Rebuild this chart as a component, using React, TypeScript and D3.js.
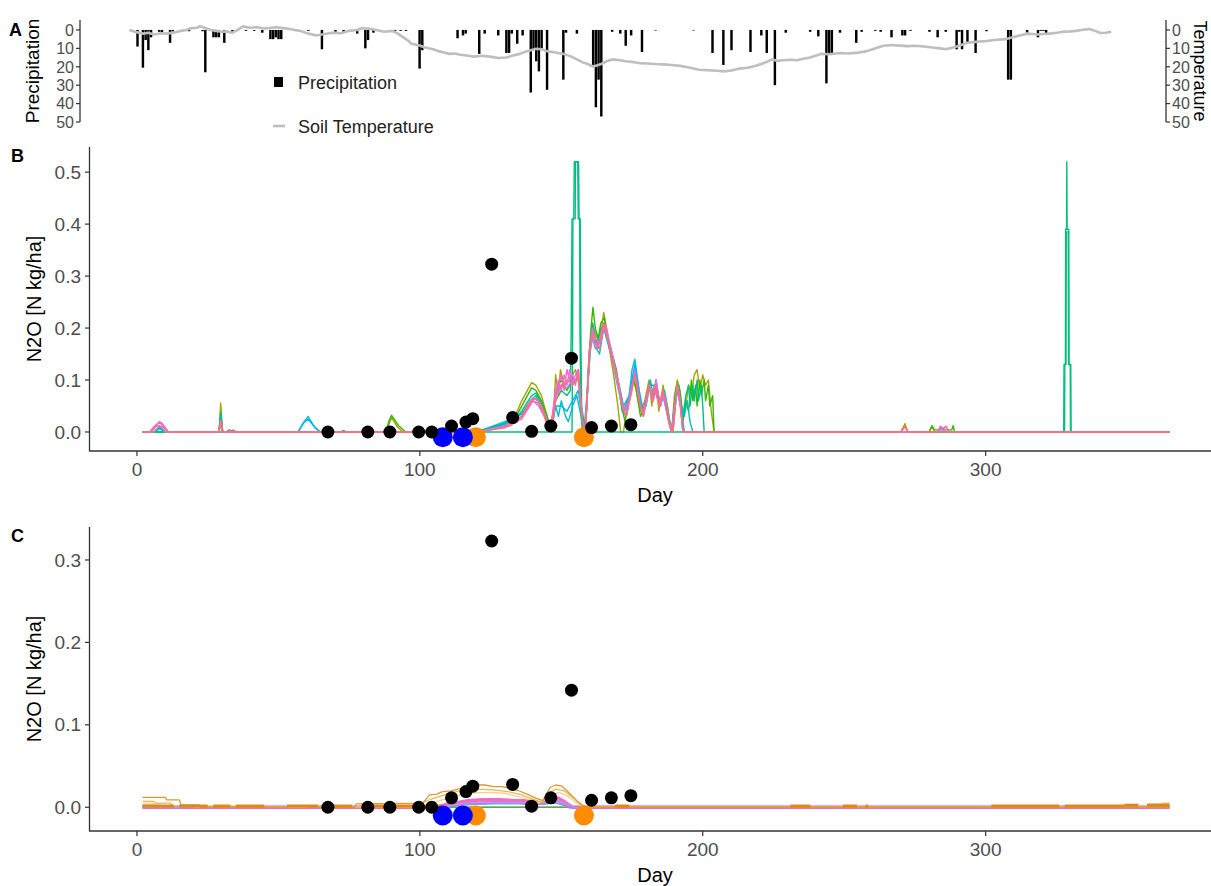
import React from 'react';
import * as d3 from 'd3';

// ---------- Panel A data ----------
const precipitation: [number, number][] = [
  [4, 9], [6, 20.5], [7, 5.5], [8, 11], [9, 4], [12, 1], [13, 1.5], [16, 7], [17, 2], [23, 0.7], [28, 0.7], [29, 23],
  [32, 4], [33, 4], [34, 4], [36, 7], [39, 1], [44, 0.5], [47, 0.5], [50, 1.5], [53, 5], [54, 5], [55, 4], [56, 5], [57, 5],
  [67, 0.5], [72, 10.5], [77, 1], [80, 1.2], [85, 2], [88, 10], [89, 5.5], [91, 1.5], [99, 0.5], [101, 0.5], [103, 0.5],
  [108, 21], [109, 11], [122, 4.5], [124, 3], [125, 2], [130, 13], [132, 2], [137, 3], [140, 12.5], [141, 12.5], [142, 2],
  [144, 7.5], [146, 3], [149, 34], [150, 10.5], [151, 17], [152, 22.5], [153, 10], [155, 32.5], [161, 27], [162, 1.5],
  [166, 2], [172, 19], [173, 42], [174, 27], [175, 47], [179, 1], [182, 2], [184, 8.6], [186, 3], [190, 12], [195, 0.3],
  [209, 0.3], [216, 12.5], [220, 19], [223, 11], [230, 12], [234, 3], [236, 12.5], [239, 30], [243, 1.5], [252, 1],
  [255, 3.5], [258, 29], [259, 12.5], [260, 12.5], [263, 1.5], [269, 7], [271, 1], [276, 0.5], [278, 1], [282, 4],
  [286, 3], [287, 3], [289, 0.5], [296, 1], [299, 4], [302, 1], [306, 10.5], [307, 1], [308, 10.5], [310, 6.5],
  [313, 12.5], [317, 0.7], [325, 27], [326, 27], [332, 1.5], [336, 4], [337, 0.5], [338, 0.5], [339, 2],
];

const soilTemperature: [number, number][] = [
  [1, 0], [3, 1], [6, 2], [8, 1.5], [10, 2.5], [13, 1.8], [15, 2], [18, 1.2], [20, 0.5], [22, 0], [24, -1], [26, -1.2],
  [27, -2], [29, -1], [31, 0], [33, 0.5], [35, 1], [37, 0.8], [39, 1.5], [41, 0], [43, -2], [45, -1.2], [48, -1.5],
  [51, -0.8], [55, -1.5], [58, -1], [60, -0.5], [62, 0], [64, 0.5], [67, 2], [70, 3], [73, 2.2], [76, 1.5], [79, 1.8],
  [82, 0.5], [85, 0], [87, -1], [90, -0.5], [92, 0], [95, 1], [98, 0.5], [100, 2], [102, 4], [104, 6], [105, 7.5],
  [108, 8.5], [110, 9.5], [113, 10.5], [115, 11.5], [117, 12.2], [119, 13], [121, 12.8], [123, 13.5], [126, 14],
  [128, 14.5], [131, 14], [134, 14.5], [137, 15.2], [140, 15], [142, 14], [145, 13], [147, 11.8], [149, 11], [151, 10.2],
  [153, 10.5], [155, 11.5], [157, 12], [159, 12.5], [161, 13], [164, 14.5], [166, 16], [168, 17.5], [170, 18.5],
  [172, 20], [173, 19.5], [175, 18.5], [177, 17], [179, 16], [182, 16.5], [184, 17], [187, 17.5], [189, 18], [192, 18.2],
  [195, 18.5], [198, 18.7], [201, 19], [204, 19.5], [206, 20], [209, 21], [211, 21.6], [214, 21.8], [216, 22],
  [218, 22.2], [220, 22.5], [223, 22], [226, 21], [229, 20.5], [232, 19.5], [235, 18], [238, 16], [240, 16.8],
  [242, 16.5], [245, 16.2], [247, 16.5], [250, 15.5], [252, 15], [254, 14], [256, 13], [259, 13.2], [263, 12.5],
  [266, 12.8], [270, 12.3], [273, 11.5], [275, 10.5], [277, 9.5], [279, 8.6], [282, 8.2], [285, 8.5], [288, 8.8],
  [291, 8.6], [294, 9], [297, 9.5], [300, 10], [302, 10.5], [304, 9.8], [306, 9], [308, 8], [310, 7], [313, 6.5],
  [317, 6], [320, 5.5], [324, 5], [326, 4.2], [328, 3.5], [330, 2.8], [332, 2], [334, 2.2], [336, 2.5], [338, 2.2],
  [340, 2], [343, 1.5], [345, 1], [348, 0.8], [350, 0.5], [352, 0], [355, -0.5], [357, 0.5], [359, 1.7], [361, 1.5],
  [363, 1],
];

const precipTicks = [0, 10, 20, 30, 40, 50];

// ---------- Panel B data (simulated N2O, several runs) ----------
const oliveB: [number, number][] = [
  [2, 0], [29, 0], [29.6, 0.056], [30.3, 0], [33, 0], [34, 0.004], [35, 0], [88, 0], [90, 0.028], [92, 0.01], [94, 0],
  [118, 0], [124, 0.006], [130, 0.015], [134, 0.035], [136, 0.06], [138, 0.08], [139.5, 0.095], [141, 0.09], [143, 0.07],
  [145, 0.03], [146, 0], [147, 0.01], [148, 0.11], [149, 0.07], [149.7, 0.12], [151, 0.09], [153, 0.1], [155, 0.12],
  [156.5, 0.09], [157.5, 0.02], [158.5, 0], [160, 0.16], [161, 0.21], [162, 0.19], [163.5, 0.17], [165, 0.23], [166, 0.2],
  [167, 0.16], [168.5, 0.11], [170, 0.05], [171, 0], [172, 0], [173, 0.04], [174, 0.07], [175.5, 0.1], [176.5, 0.08],
  [178, 0.04], [179.5, 0.06], [181, 0.1], [182, 0.05], [183.5, 0.1], [184.5, 0.04], [186, 0.09], [187, 0.05], [188, 0.02],
  [189, 0], [190, 0.07], [191, 0.1], [192, 0.08], [193, 0.03], [194, 0.05], [195, 0.09], [196, 0.07], [197, 0.11],
  [198, 0.12], [199, 0.08], [200, 0.11], [201, 0.09], [202, 0.1], [203, 0.04], [204, 0], [270, 0], [271.5, 0.016],
  [272.5, 0], [280, 0], [281, 0.01], [282, 0], [365, 0],
];
const greenB: [number, number][] = [
  [2, 0], [29, 0], [29.6, 0.03], [30.3, 0], [88, 0], [89, 0.02], [90, 0.032], [92.5, 0.012], [95, 0], [120, 0],
  [128, 0.01], [134, 0.03], [137, 0.06], [139.5, 0.085], [141, 0.08], [143, 0.06], [145, 0.03], [146.5, 0], [148, 0.08],
  [150, 0.1], [152, 0.08], [154, 0.1], [156, 0.1], [157.5, 0.03], [158.5, 0], [159.5, 0.12], [160.5, 0.2], [161.2, 0.24],
  [162, 0.2], [163, 0.18], [164, 0.21], [165.2, 0.22], [166, 0.19], [168, 0.15], [169.5, 0.12], [171, 0.06],
  [172.5, 0.02], [174, 0.06], [175.5, 0.11], [176.5, 0.08], [178, 0.03], [179.5, 0.05], [181, 0.09], [182, 0.07],
  [183, 0.09], [185, 0.05], [186, 0.08], [187.5, 0.04], [189, 0], [190, 0.05], [191, 0.09], [192, 0.07], [193, 0.02],
  [194, 0.06], [195, 0.04], [196, 0.1], [196.5, 0.06], [197.5, 0.09], [198, 0.05], [199, 0.1], [199.5, 0.07],
  [200.5, 0.1], [201, 0.06], [202, 0.09], [202.5, 0.05], [203.5, 0.07], [204, 0], [280, 0], [281, 0.012], [282, 0.004],
  [288, 0.004], [288.5, 0.012], [289, 0], [365, 0],
];
const tealB: [number, number][] = [
  [2, 0], [6, 0], [8, 0.01], [10, 0], [29, 0], [29.6, 0.038], [30.3, 0], [120, 0], [127, 0.012], [133, 0.022],
  [136, 0.04], [139.5, 0.07], [141, 0.075], [143, 0.055], [145, 0.02], [146.5, 0], [148, 0.06], [150, 0.08], [152, 0.07],
  [153.2, 0.08], [153.5, 0.19], [153.8, 0.41], [154.4, 0.41], [154.6, 0.52], [156.1, 0.52], [156.3, 0.41], [156.7, 0.41],
  [156.9, 0.19], [157.2, 0.05], [158.5, 0], [160, 0.15], [161, 0.21], [162, 0.18], [163, 0.17], [164, 0.2], [165, 0.2],
  [166, 0.18], [168, 0.14], [170, 0.1], [171.5, 0.04], [173, 0.03], [175, 0.09], [176, 0.12], [177.5, 0.06], [179, 0.04],
  [181, 0.09], [182, 0.07], [183, 0.08], [185, 0.05], [186, 0.07], [187.5, 0.05], [189, 0], [190.5, 0.08], [191.5, 0.09],
  [193, 0.03], [194, 0.07], [195, 0.09], [195.5, 0.05], [196.5, 0.09], [197, 0.06], [198, 0.1], [198.5, 0.06],
  [199.5, 0.09], [200, 0.05], [200.5, 0], [327.6, 0], [327.7, 0.13], [328.2, 0.13], [328.3, 0.39], [328.6, 0.39],
  [328.7, 0.52], [328.8, 0.39], [329.4, 0.39], [329.5, 0.13], [330.1, 0.13], [330.2, 0], [365, 0],
];
const teal2B: [number, number][] = [
  [2, 0], [153.8, 0], [154.0, 0.19], [154.1, 0.41], [154.9, 0.41], [155.0, 0.52], [155.8, 0.52], [156.0, 0.41],
  [156.5, 0.41], [156.6, 0.19], [157, 0.03], [157.5, 0], [327.9, 0], [328.0, 0.13], [328.4, 0.13], [328.5, 0.385],
  [329.2, 0.385], [329.3, 0.13], [329.9, 0.13], [330, 0], [365, 0],
];
const cyanB: [number, number][] = [
  [2, 0], [6, 0], [8, 0.006], [10, 0], [29, 0], [29.6, 0.03], [30.3, 0], [31.5, 0], [32.5, 0.004], [34, 0.002], [36, 0],
  [57, 0], [58.5, 0.015], [60.5, 0.03], [62.5, 0.012], [64.5, 0], [72, 0], [73, 0.003], [74, 0], [120, 0], [125, 0.01],
  [130, 0.02], [133, 0.026], [136, 0.035], [139, 0.06], [141, 0.07], [143, 0.05], [145, 0.015], [146.5, 0], [148, 0.05],
  [149, 0.03], [150, 0.06], [151.5, 0.03], [152.5, 0.02], [154, 0.05], [155.5, 0.07], [157, 0.03], [158, 0],
  [159.5, 0.1], [160.5, 0.17], [161.5, 0.19], [162.5, 0.16], [163.5, 0.15], [165, 0.2], [166, 0.19], [167.5, 0.15],
  [169, 0.12], [170.5, 0.09], [172, 0.05], [174, 0.07], [175, 0.12], [176, 0.14], [177, 0.1], [178.5, 0.04], [180, 0.05],
  [181.5, 0.1], [182.5, 0.07], [183.5, 0.1], [185, 0.05], [186.5, 0.08], [187.5, 0.05], [188.5, 0.01], [189.5, 0],
  [191, 0.09], [192.5, 0.05], [193.5, 0.03], [194.5, 0.06], [195.5, 0.02], [196.5, 0], [365, 0],
];
const blueB: [number, number][] = [
  [2, 0], [6, 0], [8, 0.008], [10, 0], [29, 0], [29.6, 0.025], [30.3, 0], [57, 0], [59, 0.018], [60.5, 0.025], [63, 0.008],
  [65, 0], [120, 0], [126, 0.008], [132, 0.018], [137, 0.04], [140, 0.065], [142, 0.06], [144, 0.035], [146, 0], [148, 0.05],
  [150, 0.05], [152, 0.04], [154, 0.06], [156, 0.08], [157.5, 0.02], [158.5, 0], [160, 0.16], [161, 0.19], [162, 0.17],
  [164, 0.18], [165, 0.21], [166, 0.19], [168, 0.15], [170, 0.1], [172, 0.04], [174, 0.07], [176, 0.13], [177.5, 0.08],
  [179, 0.04], [181, 0.09], [183, 0.09], [185, 0.05], [186, 0.07], [188, 0.02], [189, 0], [191, 0.08], [192.5, 0.04],
  [193.5, 0], [365, 0],
];
const purpleB: [number, number][] = [
  [2, 0], [6, 0], [8, 0.012], [10, 0], [29, 0], [29.6, 0.02], [30.3, 0], [120, 0], [130, 0.012], [136, 0.03], [140, 0.06],
  [142, 0.055], [144, 0.03], [146, 0], [148, 0.07], [150, 0.09], [152, 0.085], [154, 0.1], [156, 0.1], [157.5, 0.02],
  [158.5, 0], [160, 0.15], [161, 0.18], [162, 0.16], [164, 0.18], [165, 0.2], [167, 0.17], [169, 0.11], [171, 0.06],
  [173, 0.04], [175, 0.09], [176, 0.11], [178, 0.05], [179, 0.03], [181, 0.08], [183, 0.08], [185, 0.05], [186, 0.07],
  [188, 0.02], [189, 0], [191, 0.09], [192, 0.06], [193, 0], [283, 0], [284, 0.008], [285, 0.004], [286, 0], [365, 0],
];
const magentaB: [number, number][] = [
  [2, 0], [4.5, 0], [6, 0.01], [8, 0.018], [10, 0.008], [11, 0], [29, 0], [29.6, 0.022], [30.3, 0], [120, 0], [130, 0.01],
  [136, 0.03], [140, 0.065], [142, 0.06], [144, 0.035], [146, 0], [148, 0.08], [149, 0.1], [150, 0.08], [151, 0.11],
  [152, 0.09], [153, 0.12], [154, 0.09], [155, 0.11], [156, 0.12], [157.5, 0.02], [158.5, 0], [160, 0.16], [161, 0.2],
  [162, 0.18], [163.5, 0.17], [165, 0.21], [166, 0.2], [168, 0.15], [170, 0.1], [172, 0.04], [174, 0.06], [175.5, 0.1],
  [176, 0.12], [178, 0.05], [179, 0.03], [181, 0.09], [182.5, 0.06], [183.5, 0.1], [185, 0.05], [186, 0.08], [188, 0.02],
  [189, 0], [191, 0.09], [192, 0.05], [193, 0], [283, 0], [284, 0.01], [285, 0.007], [286, 0.01], [287, 0], [365, 0],
];
const pinkB: [number, number][] = [
  [2, 0], [4.5, 0], [6.5, 0.012], [8, 0.02], [9, 0.016], [11, 0], [29, 0], [29.6, 0.018], [30.3, 0], [32, 0], [33, 0.003],
  [35, 0], [120, 0], [130, 0.008], [136, 0.025], [140, 0.06], [142, 0.05], [144, 0.03], [146, 0], [148, 0.07], [149, 0.09],
  [150, 0.11], [151, 0.08], [152, 0.12], [153, 0.1], [154, 0.11], [155, 0.09], [156, 0.12], [157.5, 0.02], [158.5, 0],
  [160, 0.15], [161, 0.19], [162, 0.17], [163.5, 0.16], [165, 0.2], [166, 0.19], [168, 0.14], [170, 0.1], [172, 0.04],
  [174, 0.06], [175.5, 0.1], [176.5, 0.1], [178, 0.05], [179, 0.04], [181, 0.09], [182.5, 0.06], [183.5, 0.09],
  [185, 0.05], [186, 0.08], [188, 0.02], [189, 0], [191, 0.09], [192, 0.06], [193, 0], [270, 0], [271.5, 0.01],
  [272.5, 0], [283, 0], [284, 0.011], [285, 0.006], [286, 0.011], [287, 0], [365, 0],
];
const salmonB: [number, number][] = [
  [2, 0], [5, 0], [7, 0.012], [9, 0.01], [11, 0], [29, 0], [29.6, 0.02], [30.3, 0], [120, 0], [126, 0.005], [132, 0.012],
  [136, 0.03], [139, 0.06], [141, 0.065], [143, 0.05], [145, 0.02], [146.5, 0], [148, 0.06], [150, 0.09], [152, 0.1],
  [154, 0.09], [156, 0.11], [157.5, 0.02], [158.5, 0], [160, 0.15], [161, 0.19], [162, 0.17], [163, 0.16], [164, 0.19],
  [165, 0.21], [166, 0.19], [168, 0.14], [170, 0.1], [171.5, 0.05], [173, 0.03], [175, 0.08], [176, 0.11], [177.5, 0.06],
  [179, 0.03], [181, 0.09], [182, 0.06], [183, 0.09], [184.5, 0.05], [186, 0.08], [187, 0.06], [188.5, 0.01], [189.5, 0],
  [191, 0.09], [192, 0.06], [193, 0], [270, 0], [271.5, 0.012], [272.5, 0], [365, 0],
];

// ---------- Panel C data ----------
const salmonC: [number, number][] = [[2, 0], [365, 0]];
const greenC: [number, number][] = [[2, 0.002], [6, 0.002], [6.5, 0], [365, 0]];
const goldC1: [number, number][] = [
  [2, 0.012], [10, 0.012], [10.5, 0.009], [15, 0.009], [15.5, 0.003], [22, 0.003], [22.5, 0], [53, 0], [54, 0.002],
  [60, 0.002], [60.5, 0], [77, 0], [77.5, 0.004], [101, 0.005], [103.5, 0.015], [106, 0.016], [108, 0.019], [111, 0.02],
  [114.5, 0.023], [118, 0.027], [123, 0.027], [126, 0.025], [129, 0.025], [132, 0.023], [135, 0.02], [138.5, 0.015],
  [141, 0.011], [143.5, 0.008], [146, 0.024], [148, 0.027], [150, 0.026], [152, 0.02], [153.5, 0.015], [155.5, 0.008],
  [157, 0.004], [158.5, 0], [365, 0],
];
const goldC2: [number, number][] = [
  [2, 0.007], [6, 0.007], [6.5, 0.005], [12, 0.005], [12.5, 0.002], [20, 0.002], [20.5, 0], [98, 0], [100, 0.004],
  [104, 0.01], [108, 0.014], [112, 0.018], [116, 0.022], [120, 0.022], [126, 0.021], [131, 0.019], [136, 0.015],
  [140, 0.01], [143, 0.006], [145, 0.016], [148, 0.022], [151, 0.02], [154, 0.012], [157, 0.003], [158, 0], [362, 0],
  [362.5, 0.005], [365, 0.005],
];
const goldC3: [number, number][] = [
  [2, 0.004], [8, 0.004], [8.5, 0.002], [40, 0.002], [40.5, 0], [102, 0], [106, 0.007], [110, 0.011], [116, 0.017],
  [124, 0.018], [130, 0.017], [136, 0.012], [142, 0.005], [146, 0.012], [149, 0.018], [152, 0.014], [156, 0.004],
  [158, 0], [349, 0], [349.5, 0.003], [354, 0.003], [354.5, 0], [357, 0], [357.5, 0.004], [365, 0.004],
];
const pinkC: [number, number][] = [
  [2, 0], [106, 0], [110, 0.004], [114, 0.006], [117, 0.008], [122, 0.009], [128, 0.009], [134, 0.008], [138, 0.008],
  [141, 0.005], [144, 0.006], [147, 0.01], [149, 0.011], [151, 0.007], [153, 0.002], [154, 0], [365, 0],
];
const pinkC2: [number, number][] = [
  [2, 0], [108, 0], [112, 0.003], [118, 0.005], [126, 0.006], [134, 0.006], [140, 0.004], [145, 0.005], [148, 0.008],
  [151, 0.004], [153, 0], [365, 0],
];
const lavenderC: [number, number][] = [
  [2, 0], [108, 0], [114, 0.004], [120, 0.006], [130, 0.006], [140, 0.005], [146, 0.006], [149, 0.008], [153, 0.002],
  [155, 0], [365, 0],
];
const blueC: [number, number][] = [
  [2, 0], [110, 0], [116, 0.003], [126, 0.004], [138, 0.004], [148, 0.005], [152, 0.001], [153, 0], [365, 0],
];
// orange run: step values (value holds until next day listed)
const orangeC: [number, number][] = [
  [2, 0.0015], [13, 0], [15, 0.0015], [25, 0], [27, 0.0015], [33, 0], [35, 0.0015], [45, 0], [53, 0.0015], [64, 0],
  [69, 0.0015], [76, 0], [80, 0.0015], [100, 0], [103, 0.0015], [108, 0], [169, 0.0015], [174, 0], [231, 0.0015],
  [238, 0], [249.5, 0.0015], [254.5, 0], [257.5, 0.0015], [258.5, 0], [302, 0.0015], [326, 0], [328, 0.0015],
  [349, 0.0025], [354, 0], [357, 0.0025], [365, 0.0025],
];

// ---------- Observations ----------
const obsDay = [67.5, 81.6, 89.4, 99.6, 104.2, 111.2, 116.3, 118.7, 125.4, 132.8, 139.5, 146.3, 153.6, 160.7, 167.7, 174.6];
const obsN2O = [0, 0, 0, 0, 0, 0.0115, 0.019, 0.0256, 0.323, 0.0277, 0.0013, 0.0115, 0.142, 0.0085, 0.0115, 0.014];
const blueEventDay = [108.1, 115.2];
const orangeEventDay = [119.8, 158];
const eventLevel = -0.01;

const dayTicks = [0, 100, 200, 300];
const ticksB = [0, 0.1, 0.2, 0.3, 0.4, 0.5];
const ticksC = [0, 0.1, 0.2, 0.3];

const FONT = '"Liberation Sans", Arial, Helvetica, sans-serif';
const AXIS_COL = '#333333';
const TICK_TXT = '#4D4D4D';

const xA = d3.scaleLinear().domain([-17.2, 383.2]).range([80, 1166]);
const yA = d3.scaleLinear().domain([-5.4, 50]).range([20, 122]);
const xN = d3.scaleLinear().domain([-17.2, 383.2]).range([88.3, 1221]);
const yB = d3.scaleLinear().domain([-0.0366, 0.5484]).range([451, 147]);
const yC = d3.scaleLinear().domain([-0.0288, 0.34]).range([831, 527]);

const seriesB = [
  { d: oliveB, c: '#A3A500' },
  { d: greenB, c: '#39B600' },
  { d: tealB, c: '#00BF7D' },
  { d: teal2B, c: '#00BF7D' },
  { d: cyanB, c: '#00BFC4' },
  { d: blueB, c: '#00B0F6' },
  { d: purpleB, c: '#9590FF' },
  { d: magentaB, c: '#E76BF3' },
  { d: pinkB, c: '#FF62BC' },
  { d: salmonB, c: '#F8766D' },
];

const seriesC = [
  { d: salmonC, c: '#F08A84', w: 1.3 },
  { d: greenC, c: '#4CAF50', w: 1.5 },
  { d: pinkC2, c: '#F06FC8', w: 3 },
  { d: pinkC, c: '#EE6CC4', w: 3.5 },
  { d: blueC, c: '#6F9CF2', w: 1.2 },
  { d: lavenderC, c: '#A99CF5', w: 1.2 },
  { d: goldC3, c: '#F2D28C', w: 1.3 },
  { d: goldC2, c: '#E8B75A', w: 1.3 },
  { d: goldC1, c: '#D99A36', w: 1.3 },
];

function Points({ y }: { y: any }) {
  return (
    <g>
      {orangeEventDay.map((d, i) => (
        <circle key={'o' + i} cx={xN(d)} cy={y(eventLevel)} r={10} fill="#FF8C00" />
      ))}
      {blueEventDay.map((d, i) => (
        <circle key={'b' + i} cx={xN(d)} cy={y(eventLevel)} r={10} fill="#0000FF" />
      ))}
      {obsDay.map((d, i) => (
        <circle key={'k' + i} cx={xN(d)} cy={y(obsN2O[i])} r={6.5} fill="#000" />
      ))}
    </g>
  );
}

function Axes({ y, ticks, top, bottom, label, title }: any) {
  const midY = (top + bottom) / 2;
  return (
    <g>
      <line x1={89.5} x2={89.5} y1={top} y2={bottom} stroke={AXIS_COL} strokeWidth={1.3} />
      <line x1={89} x2={1211} y1={bottom} y2={bottom} stroke={AXIS_COL} strokeWidth={1.3} />
      {ticks.map((t: number) => (
        <g key={'y' + t}>
          <line x1={85} x2={89.5} y1={y(t)} y2={y(t)} stroke={AXIS_COL} strokeWidth={1.2} />
          <text x={81} y={y(t)} dy="0.35em" textAnchor="end" fontSize={19} fill={TICK_TXT}>
            {d3.format('.1f')(t)}
          </text>
        </g>
      ))}
      {dayTicks.map((t) => (
        <g key={'x' + t}>
          <line x1={xN(t)} x2={xN(t)} y1={bottom} y2={bottom + 5} stroke={AXIS_COL} strokeWidth={1.2} />
          <text x={xN(t)} y={bottom + 25} textAnchor="middle" fontSize={19} fill={TICK_TXT}>
            {t}
          </text>
        </g>
      ))}
      <text x={655} y={bottom + 51} textAnchor="middle" fontSize={20} fill="#000">
        Day
      </text>
      <text
        transform={`translate(41,${midY}) rotate(-90)`}
        textAnchor="middle"
        fontSize={20}
        fill="#000"
      >
        {title}
      </text>
      <text x={11} y={top + 15} fontSize={18} fontWeight="bold" fill="#000">
        {label}
      </text>
    </g>
  );
}

export default function App() {
  const lineB = d3.line<[number, number]>().x((d) => xN(d[0])).y((d) => yB(d[1]));
  const lineC = d3.line<[number, number]>().x((d) => xN(d[0])).y((d) => yC(d[1]));
  const lineT = d3.line<[number, number]>().x((d) => xA(d[0])).y((d) => yA(d[1]));
  const barW = xA(0.9) - xA(0);

  return (
    <svg
      width={1211}
      height={886}
      style={{ position: 'absolute', left: 0, top: 0, background: '#fff' }}
      fontFamily={FONT}
    >
      <rect x={0} y={0} width={1211} height={886} fill="#fff" />

      {/* ---------- Panel A ---------- */}
      <g>
        {precipitation.map(([d, v], i) => (
          <rect key={i} x={xA(d) - barW / 2} y={yA(0)} width={barW} height={yA(v) - yA(0)} fill="#000" />
        ))}
        <path d={lineT(soilTemperature) || ''} fill="none" stroke="#BEBEBE" strokeWidth={2.6} strokeLinejoin="round" />
        <line x1={80} x2={80} y1={20} y2={122} stroke={AXIS_COL} strokeWidth={1.3} />
        <line x1={1166} x2={1166} y1={20} y2={122} stroke={AXIS_COL} strokeWidth={1.3} />
        {precipTicks.map((t) => (
          <g key={t}>
            <line x1={76} x2={80} y1={yA(t)} y2={yA(t)} stroke={AXIS_COL} strokeWidth={1.2} />
            <text x={74} y={yA(t)} dy="0.36em" textAnchor="end" fontSize={16} fill={TICK_TXT}>
              {t}
            </text>
            <line x1={1166} x2={1170} y1={yA(t)} y2={yA(t)} stroke={AXIS_COL} strokeWidth={1.2} />
            <text x={1172} y={yA(t)} dy="0.36em" textAnchor="start" fontSize={16} fill={TICK_TXT}>
              {t}
            </text>
          </g>
        ))}
        <text transform="translate(39,71) rotate(-90)" textAnchor="middle" fontSize={19} fill="#000">
          Precipitation
        </text>
        <text transform="translate(1194,71) rotate(90)" textAnchor="middle" fontSize={18} fill="#000">
          Temperature
        </text>
        <text x={9} y={36} fontSize={18} fontWeight="bold" fill="#000">
          A
        </text>
        {/* legend */}
        <rect x={274} y={77} width={9} height={10} fill="#000" />
        <text x={298} y={89} fontSize={18} fill="#222">
          Precipitation
        </text>
        <line x1={273} x2={285} y1={126} y2={126} stroke="#BEBEBE" strokeWidth={2.6} />
        <text x={298} y={133} fontSize={18} fill="#222">
          Soil Temperature
        </text>
      </g>

      {/* ---------- Panel B ---------- */}
      <g>
        {seriesB.map((s, i) => (
          <path key={i} d={lineB(s.d) || ''} fill="none" stroke={s.c} strokeWidth={1.4} strokeLinejoin="round" />
        ))}
        <Points y={yB} />
        <Axes y={yB} ticks={ticksB} top={147} bottom={451} label="B" title="N2O [N kg/ha]" />
      </g>

      {/* ---------- Panel C ---------- */}
      <g>
        {seriesC.map((s, i) => (
          <path key={i} d={lineC(s.d) || ''} fill="none" stroke={s.c} strokeWidth={s.w} strokeLinejoin="round" />
        ))}
        {orangeC.slice(0, -1).map(([d, v], i) =>
          v > 0 ? (
            <line
              key={'oc' + i}
              x1={xN(d)}
              x2={xN(orangeC[i + 1][0])}
              y1={yC(v)}
              y2={yC(v)}
              stroke="#E0861A"
              strokeWidth={3}
            />
          ) : null
        )}
        <Points y={yC} />
        <Axes y={yC} ticks={ticksC} top={527} bottom={831} label="C" title="N2O [N kg/ha]" />
      </g>
    </svg>
  );
}
